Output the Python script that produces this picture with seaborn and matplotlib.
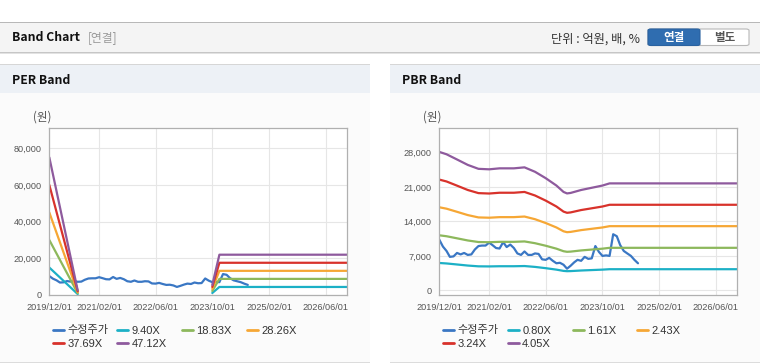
import pandas as pd
import matplotlib
matplotlib.use("Agg")
import matplotlib.pyplot as plt
from matplotlib.patches import Rectangle, FancyBboxPatch
from matplotlib.lines import Line2D
from matplotlib.ticker import FuncFormatter
import seaborn as sns

# ---- data -------------------------------------------------------------
# 수정주가 (adjusted price), monthly from 2019/12
price_dates = pd.date_range("2019-12-01", periods=57, freq="MS")
price = [10300, 8900, 8000, 6800, 6900, 7600, 7300, 7600, 7200, 7300,
         8300, 9000, 9100, 9100, 9700, 9200, 8600, 8500, 9800, 8800,
         9300, 8600, 7500, 7200, 7900, 7200, 7200, 7500, 7400, 6300,
         6200, 6600, 6000, 5500, 5600, 5200, 4400, 5000, 5700, 6200,
         6000, 6800, 6400, 6500, 9000, 7800, 7000, 7100, 7000, 11400,
         11000, 9200, 8000, 7500, 7000, 6200, 5500]

# PER band (two segments, gap in between)
per_labels = ["9.40X", "18.83X", "28.26X", "37.69X", "47.12X"]
per_dates = ["2019-12-01", "2020-08-01", "2023-10-01", "2023-12-01", "2026-12-01"]
per_segment = [0, 0, 1, 1, 1]
per_940 = [14970, 500, 1100, 4380, 4380]
per_1883 = [29980, 1000, 2200, 8780, 8780]
per_2826 = [44990, 1500, 3300, 13170, 13170]
per_3769 = [60000, 2000, 4400, 17560, 17560]
per_4712 = [75020, 2500, 5500, 21960, 21960]

# PBR band
pbr_labels = ["0.80X", "1.61X", "2.43X", "3.24X", "4.05X"]
pbr_dates = ["2019-12-01", "2020-02-01", "2020-05-01", "2020-08-01", "2020-11-01",
             "2021-02-01", "2021-05-01", "2021-09-01", "2021-12-01", "2022-03-01",
             "2022-06-01", "2022-09-01", "2022-11-01", "2022-12-01", "2023-01-01",
             "2023-04-01", "2023-08-01", "2023-10-01", "2023-12-01", "2026-12-01"]
pbr_080 = [5558, 5464, 5254, 5037, 4879, 4859, 4898, 4898, 4938, 4761,
           4504, 4207, 3950, 3891, 3911, 4030, 4148, 4207, 4294, 4294]
pbr_161 = [11186, 10996, 10574, 10137, 9819, 9779, 9858, 9858, 9939, 9581,
           9064, 8467, 7950, 7831, 7871, 8110, 8348, 8467, 8642, 8642]
pbr_243 = [16884, 16597, 15960, 15299, 14821, 14760, 14879, 14879, 15000, 14461,
           13681, 12779, 12000, 11820, 11880, 12240, 12600, 12779, 13044, 13044]
pbr_324 = [22512, 22129, 21280, 20399, 19761, 19680, 19839, 19839, 20000, 19281,
           18241, 17039, 16000, 15759, 15840, 16320, 16799, 17039, 17392, 17392]
pbr_405 = [28140, 27660, 26600, 25500, 24700, 24600, 24800, 24800, 25000, 24100,
           22800, 21300, 20000, 19700, 19800, 20400, 21000, 21300, 21740, 21740]

tick_dates = ["2019-12-01", "2021-02-01", "2022-06-01", "2023-10-01", "2025-02-01", "2026-06-01"]
tick_labels = ["2019/12/01", "2021/02/01", "2022/06/01", "2023/10/01", "2025/02/01", "2026/06/01"]

price_color = "#3a77c4"
band_colors = ["#1cb0c6", "#8db85c", "#f6a735", "#d8322b", "#8e5a9d"]

# ---- style ------------------------------------------------------------
sns.set_style("white")
plt.rcParams['font.family'] = ['Liberation Sans', 'Noto Sans CJK KR', 'DejaVu Sans']
KR = ['Noto Sans CJK KR', 'DejaVu Sans']

W, H = 760, 364
fig = plt.figure(figsize=(W / 100, H / 100), dpi=100)
fig.patch.set_facecolor("white")


def box(x, y, w, h, color, z=0):
    fig.add_artist(Rectangle((x / W, 1 - (y + h) / H), w / W, h / H,
                             transform=fig.transFigure, facecolor=color,
                             edgecolor="none", zorder=z))


def text(x, y, s, **kw):
    fig.text(x / W, 1 - y / H, s, va="center", **kw)


# top header bar
box(0, 22, W, 31, "#f4f4f4")
box(0, 22, W, 1, "#b8b8b8")
box(0, 52, W, 1, "#c6c6c6")
box(0, 53, W, 1, "#e2e2e2")
text(12, 37.5, "Band Chart", family=KR, fontsize=8.8, fontweight="bold", color="#111")
text(88, 37.5, "[연결]", family=KR, fontsize=8.5, color="#999")
text(551, 39, "단위 : 억원, 배, %", family=KR, fontsize=8.8, color="#333")
fig.add_artist(FancyBboxPatch((648 / W, 1 - 45.5 / H), 101 / W, 16.5 / H,
                              boxstyle="round,pad=0,rounding_size=0.004",
                              transform=fig.transFigure, facecolor="white",
                              edgecolor="#b8b8b8", lw=0.8))
fig.add_artist(FancyBboxPatch((648 / W, 1 - 45.5 / H), 52 / W, 16.5 / H,
                              boxstyle="round,pad=0,rounding_size=0.004",
                              transform=fig.transFigure, facecolor="#2f6db0",
                              edgecolor="#2a62a0", lw=0.8))
text(674, 37.5, "연결", family=KR, fontsize=8.3, fontweight="bold", color="white", ha="center")
text(724.5, 37.5, "별도", family=KR, fontsize=8.3, fontweight="bold", color="#555", ha="center")

# panels
for px0, pw, title in [(0, 370, "PER Band"), (390, 370, "PBR Band")]:
    box(px0, 93, pw, 269, "#fbfbfb")
    box(px0, 64, pw, 29, "#edf1f6")
    box(px0, 63.5, pw, 1, "#d6d6d6")
    box(px0, 361.5, pw, 1.5, "#dcdcdc")
    text(px0 + 12, 80, title, family=KR, fontsize=8.8, fontweight="bold", color="#111")

# ---- long tables ----------------------------------------------------
per_df = pd.concat([
    pd.DataFrame({"date": pd.to_datetime(per_dates), "value": vals,
                  "band": lab, "segment": per_segment})
    for lab, vals in zip(per_labels, [per_940, per_1883, per_2826, per_3769, per_4712])
])
pbr_df = pd.concat([
    pd.DataFrame({"date": pd.to_datetime(pbr_dates), "value": vals, "band": lab})
    for lab, vals in zip(pbr_labels, [pbr_080, pbr_161, pbr_243, pbr_324, pbr_405])
])
price_df = pd.DataFrame({"date": price_dates, "value": price})

ax_pos = [(49.3, 347.0), (439.3, 737.3)]
axes = []
for (l, r) in ax_pos:
    ax = fig.add_axes([l / W, 1 - 295 / H, (r - l) / W, (295 - 128) / H])
    axes.append(ax)

# PER
ax = axes[0]
sns.lineplot(data=price_df, x="date", y="value", color=price_color, lw=1.6, ax=ax)
sns.lineplot(data=per_df, x="date", y="value", hue="band", units="segment",
             estimator=None, palette=band_colors, hue_order=per_labels,
             lw=1.6, legend=False, ax=ax)
ax.set_ylim(0, 91000)
ax.set_yticks([0, 20000, 40000, 60000, 80000])

# PBR
ax = axes[1]
sns.lineplot(data=price_df, x="date", y="value", color=price_color, lw=1.6, ax=ax)
sns.lineplot(data=pbr_df, x="date", y="value", hue="band",
             palette=band_colors, hue_order=pbr_labels,
             lw=1.6, legend=False, ax=ax)
ax.set_ylim(-950, 33000)
ax.set_yticks([0, 7000, 14000, 21000, 28000])

for ax in axes:
    ax.set_facecolor("white")
    ax.set_xlim(pd.Timestamp("2019-12-01"), pd.Timestamp("2026-12-01"))
    ax.set_xticks(pd.to_datetime(tick_dates))
    ax.set_xticklabels(tick_labels)
    ax.yaxis.set_major_formatter(FuncFormatter(lambda v, p: f"{v:,.0f}"))
    ax.set_xlabel("")
    ax.set_ylabel("")
    ax.grid(True, color="#e6e6e6", lw=0.8)
    ax.set_axisbelow(True)
    for s in ax.spines.values():
        s.set_color("#b0b0b0")
        s.set_linewidth(0.9)
    ax.tick_params(direction="out", length=3, width=0.8, color="#b0b0b0",
                   labelsize=6.6, labelcolor="#555", pad=2.5)

text(33, 117, "(원)", family=KR, fontsize=8.3, color="#555")
text(423, 117, "(원)", family=KR, fontsize=8.3, color="#555")

# legends
legend_sets = [
    (["수정주가"] + per_labels, [52.7, 117, 182, 247]),
    (["수정주가"] + pbr_labels, [442.7, 507.7, 572.7, 637.3]),
]
for labels, xs in legend_sets:
    colors = [price_color] + band_colors
    for i, (lab, c) in enumerate(zip(labels, colors)):
        x = xs[i % 4]
        y = 330.5 if i < 4 else 344
        h = Line2D([], [], color=c, lw=2)
        fig.legend(handles=[h], labels=[lab], loc="center left",
                   bbox_to_anchor=(x / W, 1 - y / H), frameon=False,
                   handlelength=1.0, handletextpad=0.3, borderpad=0,
                   borderaxespad=0, prop={"family": ['Liberation Sans', 'Noto Sans CJK KR'], "size": 8.0},
                   labelcolor="#333")

fig.savefig("out.png", dpi=100)
